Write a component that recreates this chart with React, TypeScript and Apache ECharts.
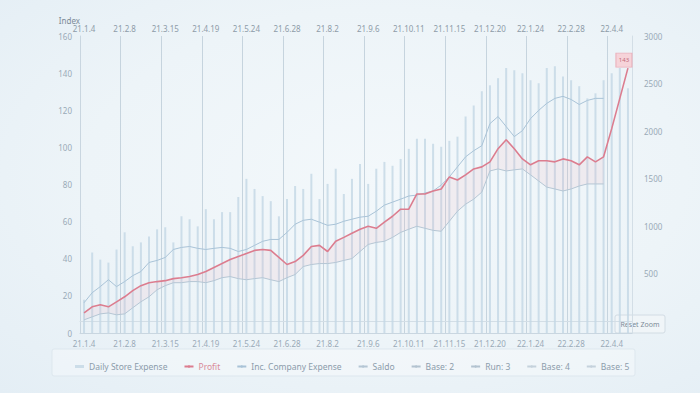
import React, { useEffect, useRef } from "react";
import * as echarts from "echarts";

const categories = [
  "21.1.4", "21.1.11", "21.1.18", "21.1.25", "21.2.1", "21.2.8", "21.2.15", "21.2.22",
  "21.3.1", "21.3.8", "21.3.15", "21.3.22", "21.3.29", "21.4.5", "21.4.12", "21.4.19",
  "21.4.26", "21.5.3", "21.5.10", "21.5.17", "21.5.24", "21.5.31", "21.6.7", "21.6.14",
  "21.6.21", "21.6.28", "21.7.5", "21.7.12", "21.7.19", "21.7.26", "21.8.2", "21.8.9",
  "21.8.16", "21.8.23", "21.8.30", "21.9.6", "21.9.13", "21.9.20", "21.9.27", "21.10.4",
  "21.10.11", "21.10.18", "21.10.25", "21.11.1", "21.11.8", "21.11.15", "21.11.22", "21.11.29",
  "21.12.6", "21.12.13", "21.12.20", "21.12.27", "22.1.3", "22.1.10", "22.1.17", "22.1.24",
  "22.1.31", "22.2.7", "22.2.14", "22.2.21", "22.2.28", "22.3.7", "22.3.14", "22.3.21",
  "22.3.28", "22.4.4", "22.4.11", "22.4.18",
];

// light blue vertical bars (hidden scale 0..1000)
const storeExpense = [
  112, 271, 247, 237, 281, 339, 292, 305, 325, 349, 356, 305, 393, 383, 359, 417,
  383, 407, 407, 458, 519, 485, 461, 444, 393, 451, 495, 485, 536, 451, 502, 553,
  468, 519, 569, 502, 553, 576, 563, 586, 620, 654, 654, 637, 627, 647, 661, 729,
  766, 814, 834, 858, 892, 885, 875, 851, 841, 892, 898, 864, 851, 831, 790, 807,
  851, 875, 892, 824,
];

// red main line (left axis)
const profit = [
  10.8, 14.1, 15.2, 14.1, 16.8, 19.5, 22.8, 25.5, 27.1, 27.7, 28.2, 29.3, 29.8, 30.4, 31.5, 33.1,
  35.3, 37.4, 39.6, 41.2, 42.8, 44.5, 45.0, 44.5, 40.7, 36.9, 38.5, 41.8, 46.6, 47.2, 43.9, 49.4,
  51.5, 53.7, 55.9, 57.5, 56.4, 59.7, 62.9, 66.7, 66.7, 74.9, 74.9, 76.5, 77.6, 84.1, 82.4, 85.2,
  88.4, 89.5, 92.2, 99.3, 104.1, 99.3, 93.8, 90.6, 92.8, 92.8, 92.2, 93.8, 92.8, 90.6, 94.9, 92.2,
  94.9, 110.1, 126.4, 142.7,
];

// upper blue line
const companyExpense = [
  16.3, 21.7, 25.0, 28.7, 25.0, 27.7, 30.9, 33.1, 38.0, 39.1, 40.7, 45.0, 46.1, 46.6, 45.6, 45.0,
  45.6, 46.1, 45.6, 43.9, 45.0, 47.2, 49.4, 50.4, 50.4, 54.2, 58.6, 60.7, 61.3, 59.7, 58.0, 58.6,
  60.2, 61.3, 62.4, 62.9, 65.6, 68.9, 70.5, 72.1, 73.8, 74.3, 75.4, 76.5, 79.7, 84.1, 89.5, 94.9,
  98.2, 100.9, 112.8, 116.6, 111.2, 105.8, 109.0, 115.5, 119.9, 123.7, 126.4, 127.5, 125.8, 123.1, 125.3, 126.4,
  126.4, null, null, null,
];

// lower line
const saldo = [
  7.1, 8.7, 10.3, 10.8, 9.8, 10.3, 13.6, 16.8, 19.5, 23.3, 25.5, 27.1, 27.1, 27.7, 27.7, 27.1,
  28.2, 29.8, 30.4, 29.3, 28.7, 29.3, 29.8, 28.7, 27.7, 29.8, 31.5, 35.8, 36.9, 37.4, 37.4, 38.0,
  39.1, 40.1, 43.9, 47.7, 48.8, 49.4, 51.5, 54.2, 55.9, 57.5, 56.4, 55.3, 54.8, 60.2, 65.6, 69.4,
  72.1, 75.9, 87.3, 88.4, 87.3, 87.9, 88.4, 85.2, 81.9, 78.6, 77.6, 76.5, 77.6, 79.2, 80.3, 80.3,
  80.3, null, null, null,
];

const legendNames = [
  "Daily Store Expense",
  "Profit",
  "Inc. Company Expense",
  "Saldo",
  "Base: 2",
  "Run: 3",
  "Base: 4",
  "Base: 5",
];

const leftMin = 0;
const leftMax = 160;
const leftStep = 20;
const rightMin = -125;
const rightMax = 3000;
const rightStep = 125;

export default function App() {
  const ref = useRef<HTMLDivElement>(null);

  useEffect(() => {
    document.body.style.margin = "0";
    if (!ref.current) return;
    const chart = echarts.init(ref.current, null, { renderer: "svg" });

    const bandFill = profit.map((v, i) =>
      v != null && saldo[i] != null ? +(v - (saldo[i] as number)).toFixed(1) : null
    );

    const axisText = { color: "#9aaab7", fontSize: 8, fontFamily: "Noto Sans" };

    chart.setOption({
      animation: false,
      backgroundColor: "transparent",
      textStyle: { fontFamily: "Noto Sans" },
      grid: { left: 80, right: 68, top: 36, bottom: 60 },
      legend: {
        data: [
          { name: legendNames[0], icon: "rect" },
          { name: legendNames[1], textStyle: { color: "#d98b99" } },
          legendNames[2],
          legendNames[3],
          legendNames[4],
          legendNames[5],
          legendNames[6],
          legendNames[7],
        ],
        left: 70,
        top: 357,
        itemGap: 16,
        itemWidth: 9,
        itemHeight: 3,
        textStyle: { color: "#8c9cab", fontSize: 8.5, fontFamily: "Noto Sans" },
      },
      xAxis: [
        {
          type: "category",
          data: categories,
          position: "bottom",
          boundaryGap: true,
          axisLine: { lineStyle: { color: "#c9d6e0" } },
          axisTick: { interval: 0, length: 3, lineStyle: { color: "#bccbd6" } },
          axisLabel: { ...axisText, interval: 4, margin: 6 },
          splitLine: { show: true, interval: 4, lineStyle: { color: "#c6d4de", width: 1 } },
        },
        {
          type: "category",
          data: categories,
          position: "top",
          boundaryGap: true,
          axisLine: { lineStyle: { color: "#d3dee6" } },
          axisTick: { show: false },
          axisLabel: { ...axisText, color: "#8e9ca8", interval: 4, margin: 4 },
          splitLine: { show: false },
        },
      ],
      yAxis: [
        {
          type: "value",
          position: "left",
          min: leftMin,
          max: leftMax,
          interval: leftStep,
          name: "Index",
          nameLocation: "end",
          nameGap: 4,
          nameTextStyle: { color: "#7c8a96", fontSize: 8, align: "right" },
          axisLine: { show: true, lineStyle: { color: "#c9d6e0" } },
          axisTick: { show: false },
          axisLabel: { ...axisText, margin: 8 },
          splitLine: { show: false },
        },
        {
          type: "value",
          position: "right",
          min: rightMin,
          max: rightMax,
          interval: rightStep,
          axisLine: { show: true, lineStyle: { color: "#d3dee6" } },
          axisTick: { show: false },
          axisLabel: {
            ...axisText,
            margin: 12,
            formatter: (v: number) => (v > 0 && v % 500 === 0 ? String(v) : ""),
          },
          splitLine: { show: false },
        },
        {
          type: "value",
          min: 0,
          max: 1000,
          show: false,
          splitLine: { show: false },
        },
      ],
      series: [
        {
          name: legendNames[0],
          type: "bar",
          xAxisIndex: 0,
          yAxisIndex: 2,
          data: storeExpense,
          barWidth: 2,
          itemStyle: { color: "#c3d7e5", opacity: 0.8 },
          silent: true,
        },
        {
          name: "bandBase",
          type: "line",
          yAxisIndex: 0,
          data: saldo,
          stack: "band",
          symbol: "none",
          lineStyle: { opacity: 0 },
          silent: true,
        },
        {
          name: "bandFill",
          type: "line",
          yAxisIndex: 0,
          data: bandFill,
          stack: "band",
          symbol: "none",
          lineStyle: { opacity: 0 },
          areaStyle: { color: "rgba(236,168,182,0.2)" },
          silent: true,
        },
        {
          name: legendNames[2],
          type: "line",
          yAxisIndex: 0,
          data: companyExpense,
          symbol: "none",
          lineStyle: { color: "#a9c3d7", width: 1 },
          itemStyle: { color: "#a9c3d7" },
        },
        {
          name: legendNames[3],
          type: "line",
          yAxisIndex: 0,
          data: saldo,
          symbol: "none",
          lineStyle: { color: "#b5c6d4", width: 1 },
          itemStyle: { color: "#b5c6d4" },
        },
        {
          name: legendNames[1],
          type: "line",
          yAxisIndex: 0,
          data: profit,
          symbol: "none",
          lineStyle: { color: "#dc7d8f", width: 1.6 },
          itemStyle: { color: "#dc7d8f" },
          markPoint: {
            symbol: "rect",
            symbolSize: [16, 14],
            symbolOffset: [-4, -8],
            itemStyle: { color: "#f6d3d9", borderColor: "#eab0bb", borderWidth: 1 },
            label: { show: true, color: "#c26a7a", fontSize: 6, formatter: "143" },
            data: [{ type: "max" }],
          },
        },
        {
          name: legendNames[4],
          type: "line",
          data: [],
          symbol: "none",
          lineStyle: { color: "#b3c3d0", width: 1 },
          itemStyle: { color: "#b3c3d0" },
        },
        {
          name: legendNames[5],
          type: "line",
          data: [],
          symbol: "none",
          lineStyle: { color: "#b3c3d0", width: 1 },
          itemStyle: { color: "#b3c3d0" },
        },
        {
          name: legendNames[6],
          type: "line",
          data: [],
          symbol: "none",
          lineStyle: { color: "#c5d2dc", width: 1 },
          itemStyle: { color: "#c5d2dc" },
        },
        {
          name: legendNames[7],
          type: "line",
          data: [],
          symbol: "none",
          lineStyle: { color: "#c5d2dc", width: 1 },
          itemStyle: { color: "#c5d2dc" },
        },
      ],
      graphic: [
        {
          type: "rect",
          z: -1,
          shape: { x: 52, y: 349, width: 583, height: 27, r: 2 },
          style: { fill: "rgba(255,255,255,0.3)", stroke: "#dde7ee", lineWidth: 1 },
          silent: true,
        },
        {
          type: "group",
          x: 615,
          y: 315,
          z: 100,
          children: [
            {
              type: "rect",
              shape: { x: 0, y: 0, width: 50, height: 18, r: 2 },
              style: { fill: "#f0f5f8", stroke: "#d2dce4", lineWidth: 1 },
            },
            {
              type: "text",
              x: 25,
              y: 9,
              style: {
                text: "Reset Zoom",
                fill: "#7d8b97",
                fontSize: 7,
                fontFamily: "Noto Sans",
                align: "center",
                verticalAlign: "middle",
              },
            },
          ],
        },
      ],
    });

    return () => chart.dispose();
  }, []);

  return (
    <div
      style={{
        width: 700,
        height: 393,
        background:
          "radial-gradient(ellipse at 55% 45%, #f3f8fb 0%, #edf4f8 55%, #e4eef5 100%)",
      }}
    >
      <div ref={ref} style={{ width: 700, height: 393 }} />
    </div>
  );
}
